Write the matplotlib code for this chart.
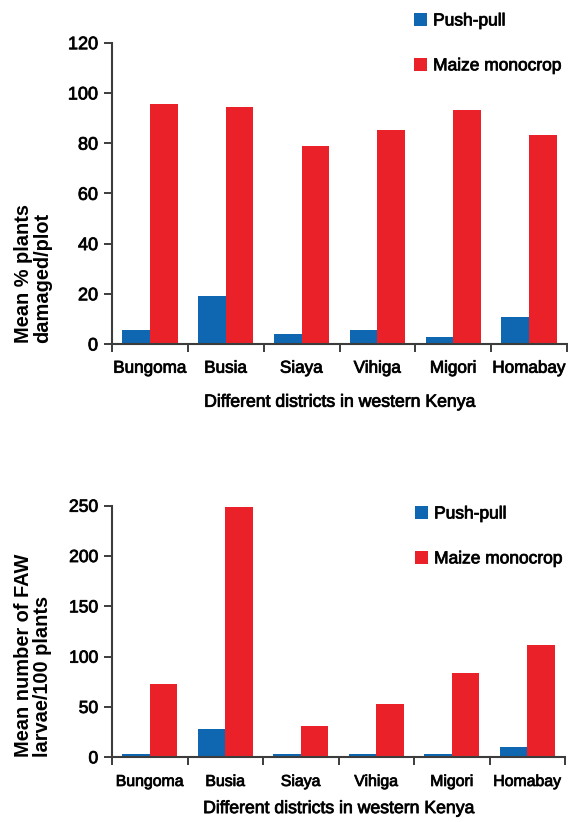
import numpy as np
import matplotlib
matplotlib.use("Agg")
import matplotlib.pyplot as plt
import matplotlib.patheffects as pe

plt.rcParams['font.family'] = ['Liberation Sans', 'DejaVu Sans']

districts = ['Bungoma', 'Busia', 'Siaya', 'Vihiga', 'Migori', 'Homabay']
series_names = ['Push-pull', 'Maize monocrop']

# mean % plants damaged per plot
damage_pushpull = [5.6, 19.1, 4.0, 5.6, 2.8, 10.8]
damage_monocrop = [95.6, 94.4, 78.9, 85.3, 93.2, 83.3]

# mean number of FAW larvae per 100 plants
larvae_pushpull = [3.3, 28.1, 3.0, 3.0, 3.0, 10.2]
larvae_monocrop = [72.8, 248.8, 31.1, 53.0, 83.8, 111.6]

blue = '#0f66b1'
red = '#eb2129'
axis_col = '#3c3c3c'
heavy = [pe.withStroke(linewidth=0.6, foreground='#111111')]

fig = plt.figure(figsize=(5.68, 8.22), dpi=100)

def draw_panel(rect, pp, mono, ymax, ystep, ylabel, ylab_pos, leg_anchor,
               xt_size, yt_size, xlab_pad):
    ax = fig.add_axes(rect)
    x = np.arange(len(districts))
    w = 0.365
    b1 = ax.bar(x - w / 2, pp, w, color=blue, label=series_names[0])
    b2 = ax.bar(x + w / 2, mono, w, color=red, label=series_names[1])
    ax.set_xlim(-0.5, len(districts) - 0.5)
    ax.set_ylim(0, ymax)
    ax.set_yticks(np.arange(0, ymax + 1, ystep))
    # ticks at group boundaries, names at group centres
    ax.set_xticks(np.arange(-0.5, len(districts), 1.0))
    ax.set_xticklabels([])
    ax.set_xticks(x, minor=True)
    ax.set_xticklabels(districts, minor=True, fontsize=xt_size)
    ax.tick_params(axis='x', which='major', direction='out', length=5.5, width=1.4, color=axis_col)
    ax.tick_params(axis='x', which='minor', length=0, pad=12)
    ax.tick_params(axis='y', direction='out', length=6, width=1.4, color=axis_col,
                   labelsize=yt_size, pad=4)
    for s in ['top', 'right']:
        ax.spines[s].set_visible(False)
    for s in ['left', 'bottom']:
        ax.spines[s].set_color(axis_col)
        ax.spines[s].set_linewidth(1.5)
    ax.set_xlabel('Different districts in western Kenya', fontsize=12.7, labelpad=xlab_pad)
    fig.text(ylab_pos[0], ylab_pos[1], ylabel, rotation=90, ha='center', va='bottom',
             multialignment='left', fontsize=14.4, fontweight='bold', linespacing=1.05)
    leg = ax.legend(handles=[b1, b2], loc='upper left', bbox_to_anchor=leg_anchor,
                    bbox_transform=fig.transFigure, frameon=False, fontsize=12.5,
                    handlelength=0.75, handleheight=0.75, handletextpad=0.35,
                    labelspacing=1.7, borderpad=0, borderaxespad=0)
    texts = ax.get_xticklabels(minor=True) + ax.get_yticklabels() + leg.get_texts()
    texts.append(ax.xaxis.label)
    for t in texts:
        t.set_path_effects(heavy)
    return ax

draw_panel([112 / 568, 1 - 344 / 822, 455 / 568, 301.3 / 822],
           damage_pushpull, damage_monocrop, 120, 20,
           'Mean % plants\ndamaged/plot', (33 / 568, 1 - 343 / 822),
           (414 / 568, 1 - 13 / 822), 12.3, 13, 13)

draw_panel([112 / 568, 1 - 757.3 / 822, 453 / 568, 251.6 / 822],
           larvae_pushpull, larvae_monocrop, 250, 50,
           'Mean number of FAW\nlarvae/100 plants', (33 / 568, 1 - 757 / 822),
           (415 / 568, 1 - 506 / 822), 11.4, 12.6, 8)

fig.savefig('out.png', dpi=100)
